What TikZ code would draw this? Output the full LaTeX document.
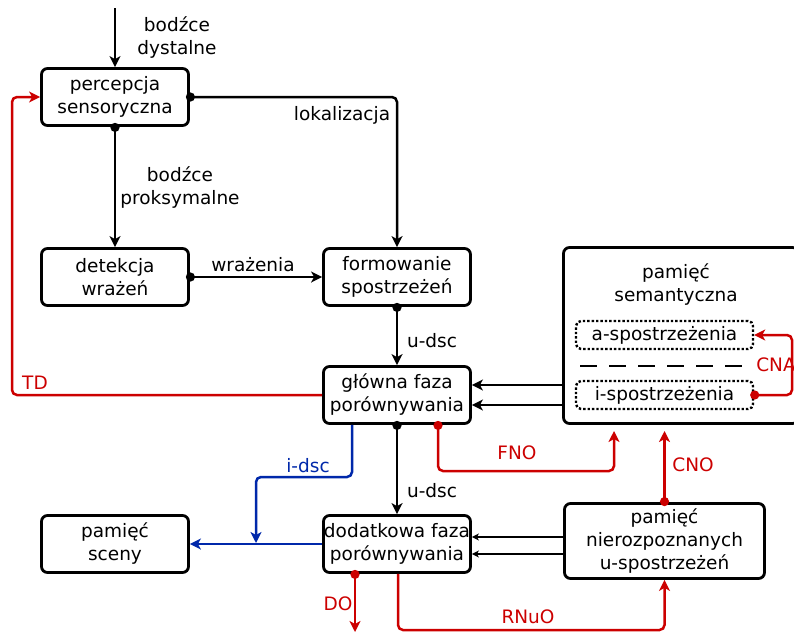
\documentclass[tikz,border=0pt]{standalone}
\usepackage{fontspec}
\setmainfont{DejaVu Sans}
\usetikzlibrary{arrows.meta,positioning}
\definecolor{rd}{RGB}{204,0,0}
\definecolor{bl}{RGB}{0,40,170}
\tikzset{box/.style={draw,line width=2.8pt,rounded corners=6pt,minimum width=147pt,minimum height=57pt,align=center,inner sep=0pt},
 dbox/.style={draw,dotted,line width=2.4pt,rounded corners=5pt,minimum width=177pt,minimum height=28pt,inner sep=0pt},
 arr/.style={-{Stealth[length=11pt,width=11pt,inset=3pt]},line width=2.5pt,rounded corners=5pt},
 darr/.style={{Circle[length=9pt]}-{Stealth[length=11pt,width=11pt,inset=3pt]},shorten <=-4pt,line width=2.5pt,rounded corners=5pt},
 sarr/.style={-{Stealth[length=7pt,width=7pt,inset=2pt]},line width=2.5pt},
 lbl/.style={align=center,inner sep=0pt},
 every node/.style={font=\fontsize{18.5}{23}\selectfont}}
\begin{document}
\begin{tikzpicture}[x=1pt,y=-1pt]
\useasboundingbox (0,0) rectangle (794,632);
% boxes
\node[box] (perc) at (115,97) {percepcja\\sensoryczna};
\node[box] (det) at (115,277) {detekcja\\wrażeń};
\node[box] (form) at (397,277) {formowanie\\spostrzeżeń};
\node[box] (glow) at (397,395) {główna faza\\porównywania};
\node[box] (dod) at (397,544) {\makebox[140pt]{dodatkowa faza}\\porównywania};
\node[box] (scena) at (115,544) {pamięć\\sceny};
\node[box,minimum width=200pt,minimum height=75pt] (nier) at (664.5,541) {pamięć\\nierozpoznanych\\u-spostrzeżeń};
\node[box,minimum width=235pt,minimum height=176pt] (sem) at (681,335.5) {};
\node[lbl] (semt) at (676,285) {pamięć\\semantyczna};
\node[dbox] (asp) at (664.5,335) {a-spostrzeżenia};
\node[dbox] (isp) at (664.5,395) {i-spostrzeżenia};
\coordinate (d1) at (580,366);
\coordinate (d2) at (748,366);
\draw[line width=2.6pt,dash pattern=on 17pt off 12pt] (d1) -- (d2);
% black flow
\coordinate (in) at (115,8);
\draw[arr] (in) -- (perc);
\draw[darr] (perc) -- (det);
\draw[darr] (perc.east) -| (form);
\draw[darr] (det) -- (form);
\draw[darr] (form) -- (glow);
\draw[darr] (glow) -- (dod);
\draw[arr] (sem.west |- 0,385) -- (glow.east |- 0,385);
\draw[arr] (sem.west |- 0,405) -- (glow.east |- 0,405);
\draw[sarr] (nier.west |- 0,537) -- (dod.east |- 0,537);
\draw[sarr] (nier.west |- 0,554) -- (dod.east |- 0,554);
% blue
\coordinate (ib) at (256,543);
\draw[arr,bl] (glow.south -| 352,0) -- (352,477) -| (ib);
\draw[arr,bl] (dod.west) -- (scena.east);
% red
\coordinate (td) at (12,395);
\draw[arr,rd] (glow.west) -- (td) |- (perc.west);
\coordinate (fno) at (614,431);
\draw[darr,rd] (glow.south -| 438,0) -- (438,471) -| (fno);
\coordinate (cno) at (664.5,431);
\draw[darr,rd] (nier.north) -- (cno);
\coordinate (cna) at (792,395);
\draw[darr,rd] (isp.east) -- (cna) |- (asp.east);
\coordinate (do) at (355,632);
\draw[darr,rd] (dod.south -| 355,0) -- (do);
\coordinate (rn) at (398,630);
\draw[arr,rd] (dod.south -| 398,0) -- (rn) -| (nier.south);
% labels
\node[lbl] at (177,37) {bodźce\\dystalne};
\node[lbl] at (180,187) {bodźce\\proksymalne};
\node[lbl] at (342,115) {lokalizacja};
\node[lbl] at (253,265) {wrażenia};
\node[lbl] at (432,341) {u-dsc};
\node[lbl] at (432,491) {u-dsc};
\node[lbl,rd] at (35,383) {TD};
\node[lbl,bl] at (308,466) {i-dsc};
\node[lbl,rd] at (517,453) {FNO};
\node[lbl,rd] at (693,465) {CNO};
\node[lbl,rd] at (776,365) {CNA};
\node[lbl,rd] at (338,604) {DO};
\node[lbl,rd] at (528,617) {RNuO};
\end{tikzpicture}
\end{document}
